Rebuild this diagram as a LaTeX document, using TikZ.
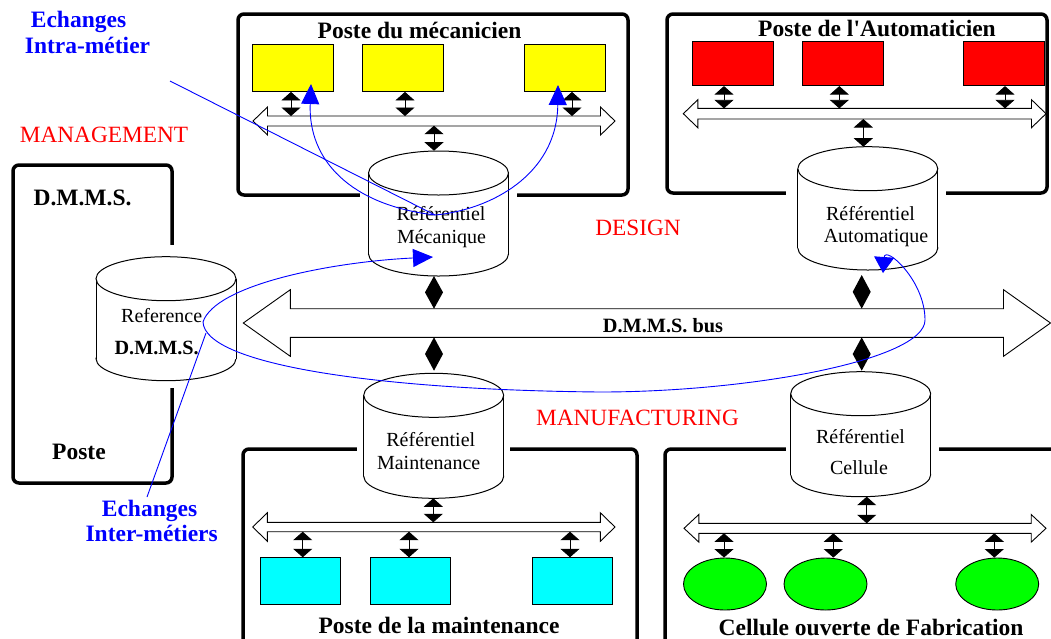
\documentclass[tikz,border=0pt]{standalone}
\usepackage{fontspec}
\setmainfont{Liberation Serif}[Ligatures=TeXOff]
\usetikzlibrary{arrows.meta,shapes.geometric}

\definecolor{pyellow}{RGB}{255,255,0}
\definecolor{pcyan}{RGB}{0,255,255}
\definecolor{pgreen}{RGB}{0,255,0}
\definecolor{pred}{RGB}{255,0,0}
\definecolor{pblue}{RGB}{0,0,255}

\newcommand{\cylshape}[3]{% cx, top-ellipse centre y, bottom-ellipse centre y
  \fill[white] (#1,#3) ellipse [x radius=70, y radius=22];
  \draw[line width=1pt] (#1,#3) ellipse [x radius=70, y radius=22];
  \fill[white] (#1-70,#2) rectangle (#1+70,#3);
  \draw[line width=1pt] (#1-70,#2) -- (#1-70,#3) (#1+70,#2) -- (#1+70,#3);
  \filldraw[fill=white, line width=1pt] (#1,#2) ellipse [x radius=70, y radius=22];
}
\newcommand{\hbus}[6]{% x1, x2, y, half shaft, half head, head length
  \filldraw[fill=white, line width=0.9pt] (#1,#3) -- (#1+#6,#3-#5) -- (#1+#6,#3-#4) -- (#2-#6,#3-#4)
    -- (#2-#6,#3-#5) -- (#2,#3) -- (#2-#6,#3+#5) -- (#2-#6,#3+#4) -- (#1+#6,#3+#4) -- (#1+#6,#3+#5) -- cycle;
}
\newcommand{\diam}[3]{% x, y top, y bottom
  \fill (#1,#3) -- (#1-9,{(#2+#3)/2}) -- (#1,#2) -- (#1+9,{(#2+#3)/2}) -- cycle;
}
\newcommand{\stnlink}[3]{% start anchor, bus coordinate, x shift
  \coordinate (tmpc) at ([xshift=#3pt]#1);
  \draw[stn] (tmpc) -- (tmpc |- #2);
}

\tikzset{
  post/.style={line width=3.5pt, rounded corners=6pt},
  stn/.style={line width=0.8pt, {Triangle[width=19pt,length=8.5pt]}-{Triangle[width=19pt,length=8.5pt]}},
  bluearr/.style={pblue, line width=0.9pt},
  btip/.style={-{Triangle[width=18pt,length=20pt]}},
  title/.style={inner sep=0pt, font=\fontsize{23.5}{26}\selectfont\bfseries},
  zone/.style={inner sep=0pt, pred, font=\fontsize{23.3}{26}\selectfont},
  exch/.style={inner sep=0pt, pblue, font=\fontsize{23.5}{26}\selectfont\bfseries},
  reftext/.style={inner sep=0pt, font=\fontsize{20}{24}\selectfont},
  yel/.style={draw, fill=pyellow, line width=0.8pt, minimum width=81pt, minimum height=47pt, inner sep=0pt},
  redb/.style={draw, fill=pred, line width=0.8pt, minimum width=81pt, minimum height=44pt, inner sep=0pt},
  cyanb/.style={draw, fill=pcyan, line width=0.8pt, minimum width=80pt, minimum height=47pt, inner sep=0pt},
  greene/.style={draw, fill=pgreen, ellipse, line width=0.9pt, minimum width=83pt, minimum height=52pt, inner sep=0pt},
}

\begin{document}
\begin{tikzpicture}[x=1pt,y=-1pt]
\useasboundingbox (0,0) rectangle (1051,638);

% ---------- posts (boxes)
\draw[post] (238,14) rectangle (628,195);
\fill[white] (360,186) rectangle (517,204);
\draw[post] (667,14) rectangle (1047,193);
\fill[white] (786,184) rectangle (946,202);
\draw[post] (13,165) rectangle (172,483);
\fill[white] (163,245) rectangle (181,388);
\draw[post] (243,449) rectangle (637,660);
\fill[white] (357,440) rectangle (510,458);
\draw[post] (665,449) rectangle (1070,660);
\fill[white] (786,440) rectangle (939,458);

% ---------- titles
\node[title] (tmec) at (419.5,30) {Poste du mécanicien};
\node[title] (taut) at (877,28) {Poste de l'Automaticien};
\node[title] (tdm) at (82.5,198) {D.M.M.S.};
\node[title] (tpo) at (79,452) {Poste};
\node[title] (tmai) at (439,625) {Poste de la maintenance};
\node[title] (tcel) at (871,627) {Cellule ouverte de Fabrication};

% ---------- zone labels
\node[zone] (zman) at (104,135) {MANAGEMENT};
\node[zone] (zdes) at (638,228) {DESIGN};
\node[zone] (zfab) at (637.5,418) {MANUFACTURING};

% ---------- workstations
\node[yel] (m1) at (293.3,68) {};
\node[yel] (m2) at (402.7,68) {};
\node[yel] (m3) at (564.7,68) {};
\node[redb] (a1) at (733.2,63.7) {};
\node[redb] (a2) at (842.8,63.7) {};
\node[redb] (a3) at (1004.2,63.7) {};
\node[cyanb] (t1) at (300.8,581.2) {};
\node[cyanb] (t2) at (410.5,581.2) {};
\node[cyanb] (t3) at (572.3,581.2) {};
\node[greene] (g1) at (725,584) {};
\node[greene] (g2) at (825.5,584) {};
\node[greene] (g3) at (997.2,584) {};

% ---------- local buses
\hbus{253}{615}{121}{5}{14}{14.5}
\hbus{683.3}{1046}{113.7}{5.3}{14}{14.5}
\hbus{252.7}{615}{527}{4.7}{14.2}{14.6}
\hbus{684}{1046}{528.3}{5}{13.8}{14.8}
\coordinate (mbT) at (0,116);
\coordinate (mbB) at (0,125.7);
\coordinate (abT) at (0,108.4);
\coordinate (abB) at (0,119);
\coordinate (tbT) at (0,522.3);
\coordinate (tbB) at (0,531.7);
\coordinate (gbT) at (0,523.3);
\coordinate (gbB) at (0,533.3);

% ---------- main bus
\hbus{243.3}{1050.5}{323}{14.3}{33.3}{47}
\node[inner sep=0pt, font=\fontsize{20.3}{24}\selectfont\bfseries] (bus) at (663,326) {D.M.M.S. bus};

% ---------- cylinders
\cylshape{438.5}{173}{254}
\cylshape{867.8}{168.7}{248}
\cylshape{166}{278.7}{358.7}
\cylshape{433.7}{395.3}{476.3}
\cylshape{860.7}{393.7}{474.7}

\node[reftext] (rm1) at (441,213.3) {Référentiel};
\node[reftext] (rm2) at (441.5,238.5) {Mécanique};
\node[reftext] (ra1) at (870.5,213.3) {Référentiel};
\node[reftext] (ra2) at (876,238.3) {Automatique};
\node[reftext] (rr1) at (161.7,315.7) {Reference};
\node[reftext, font=\fontsize{20.2}{24}\selectfont\bfseries] (rr2) at (156.7,348.3) {D.M.M.S.};
\node[reftext] (rt1) at (430.8,440) {Référentiel};
\node[reftext] (rt2) at (428.7,463.3) {Maintenance};
\node[reftext] (rc1) at (860.5,436.7) {Référentiel};
\node[reftext] (rc2) at (859,467.3) {Cellule};

\coordinate (cmT) at (434,150.7);
\coordinate (caT) at (863.3,146.7);
\coordinate (ctB) at (433.3,498.3);
\coordinate (ccB) at (866.7,496.7);

% ---------- station links
\stnlink{m1.south}{mbT}{-2.3}
\stnlink{m2.south}{mbT}{2.3}
\stnlink{m3.south}{mbT}{7.3}
\draw[stn] (cmT) -- (cmT |- mbB);
\stnlink{a1.south}{abT}{-9.2}
\stnlink{a2.south}{abT}{-3.5}
\stnlink{a3.south}{abT}{0.8}
\draw[stn] (caT) -- (caT |- abB);
\stnlink{t1.north}{tbB}{1.9}
\stnlink{t2.north}{tbB}{-1.5}
\stnlink{t3.north}{tbB}{-2.3}
\draw[stn] (ctB) -- (ctB |- tbT);
\stnlink{g1.north}{gbB}{-1}
\stnlink{g2.north}{gbB}{7.8}
\stnlink{g3.north}{gbB}{-2.9}
\draw[stn] (ccB) -- (ccB |- gbT);

% ---------- diamonds to main bus
\diam{434}{276}{308.7}
\diam{434}{337.3}{370.7}
\diam{861.7}{275}{308.7}
\diam{861.7}{337.3}{370.7}

% ---------- exchange labels
\node[exch] (ei1) at (78.5,21.7) {Echanges};
\node[exch] (ei2) at (87.5,45) {Intra-métier};
\node[exch] (ex1) at (149.5,510.7) {Echanges};
\node[exch] (ex2) at (151.7,533.3) {Inter-métiers};

% ---------- blue exchange curves
\coordinate (hub) at (435,215);
\coordinate (intraS) at (170,81);
\coordinate (interS) at (147,497);
\draw[bluearr] (intraS) -- (hub);
\draw[bluearr, btip] (hub) .. controls (350,205) and (308,160) .. (311,84);
\draw[bluearr, btip] (hub) .. controls (490,210) and (557,175) .. (558,85);
\draw[bluearr] (interS) -- (206,333);
\draw[bluearr, {Triangle[width=18pt,length=20pt]}-{Triangle[width=20pt,length=16pt]}]
  (433,257) .. controls (330,262) and (215,285) .. (203,322)
  .. controls (205,365) and (380,390) .. (600,392)
  .. controls (750,392) and (925,360) .. (925,320)
  .. controls (925,280) and (885,245) .. (883,273);
\end{tikzpicture}
\end{document}
